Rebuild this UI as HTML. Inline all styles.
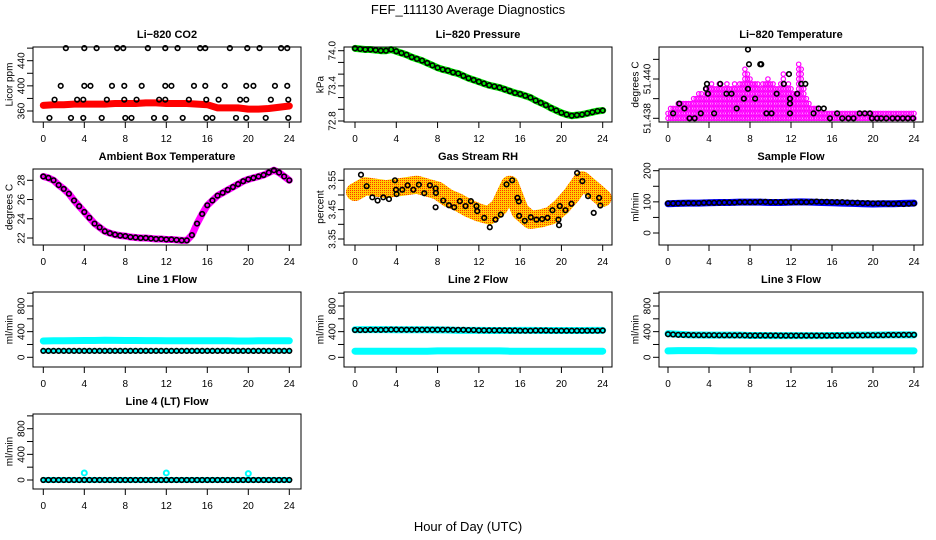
<!DOCTYPE html>
<html><head><meta charset="utf-8"><style>
html,body{margin:0;padding:0;background:#fff}
svg{display:block;font-family:"Liberation Sans",Arial,sans-serif}
</style></head><body>
<svg id="c" width="936" height="540" viewBox="0 0 936 540" xmlns="http://www.w3.org/2000/svg">
<defs>
<pattern id="chk" width="2" height="2" patternUnits="userSpaceOnUse">
<rect width="2" height="2" fill="#ffcc00"/><rect width="1" height="1" fill="#ff3300"/>
</pattern>
</defs>
<rect width="936" height="540" fill="#fff"/>
<text x="468" y="14" font-size="13" text-anchor="middle">FEF_111130  Average Diagnostics</text>
<text x="468" y="531" font-size="13" text-anchor="middle">Hour of Day (UTC)</text>
</svg>
<script>
// ---- data ----
const co2TopH=[2.2,4.0,5.2,7.2,7.8,10.2,11.9,13.1,15.3,15.8,18.2,19.9,21.1,23.2,23.8];
const co2TopV=[460,460,460,460,460,460,460,460,460,460,460,460,460,460,460];
const co2MidH=[1.7,4.0,4.6,6.7,7.9,9.6,11.9,12.5,14.7,15.8,17.7,19.8,20.5,22.6,23.8];
const co2MidV=[400,400,400,400,400,400,400,400,400,400,400,400,400,400,400];
const co2LowH=[1.1,3.3,3.9,6.2,7.9,9.1,11.3,11.9,14.2,15.9,17.1,19.2,19.8,22.2,23.9];
const co2LowV=[378,378,378,378,378,378,378,378,378,378,378,378,378,378,378];
const co2BotH=[0.6,2.7,3.9,5.7,8.0,8.6,10.8,11.9,13.6,15.9,16.5,18.8,19.8,21.7,23.9];
const co2BotV=[349,349,349,349,349,349,349,349,349,349,349,349,349,349,349];
const co2Red=[369,370,370,371,371,371,371,372,372,372,373,373,372,372,372,371,370,365,365,365,363,363,364,366,368];
const presVals=[74.04,74.03,74.02,74.02,74.01,74.0,74.0,74.02,73.99,73.96,73.93,73.89,73.86,73.83,73.79,73.75,73.71,73.68,73.66,73.63,73.61,73.57,73.53,73.5,73.47,73.44,73.41,73.39,73.37,73.34,73.31,73.28,73.26,73.23,73.2,73.15,73.11,73.07,73.02,72.98,72.94,72.91,72.89,72.9,72.91,72.93,72.95,72.97,72.98];
const tempH=[0.5,1.1,1.6,2.1,2.6,3.2,3.7,3.8,3.9,4.5,5.1,5.7,6.2,6.7,7.4,7.8,7.8,7.9,8.5,9.0,9.1,9.6,10.1,10.6,11.3,11.8,11.9,11.9,11.9,12.6,13.0,13.4,14.2,14.7,15.2,15.8,16.5,17.0,17.6,18.1,18.7,19.2,19.7,19.9,20.4,20.8,21.3,21.9,22.4,22.9,23.4,23.9];
const tempV=[51.43825,51.43875,51.4385,51.438,51.438,51.43825,51.4395,51.43975,51.43925,51.43825,51.43975,51.43925,51.43925,51.4385,51.439,51.4395,51.4415,51.44075,51.439,51.44075,51.44075,51.43825,51.43825,51.43925,51.43975,51.44025,51.439,51.43875,51.43825,51.43925,51.43975,51.43975,51.43825,51.4385,51.4385,51.438,51.43825,51.438,51.438,51.438,51.43825,51.43825,51.43825,51.438,51.438,51.438,51.438,51.438,51.438,51.438,51.438,51.438];
const magMax=[51.43825,51.4385,51.4385,51.4385,51.43875,51.43875,51.43875,51.43875,
51.43875,51.43875,51.439,51.439,51.43925,51.43925,51.439,51.4395,
51.4395,51.43975,51.4395,51.4395,51.43975,51.4395,51.4395,51.43975,
51.4395,51.4395,51.43975,51.4395,51.43975,51.43975,51.4405,51.44025,
51.44,51.43975,51.43975,51.43975,51.4395,51.43975,51.43975,51.44,
51.43975,51.43975,51.4395,51.4395,51.43975,51.44025,51.4395,51.43975,
51.4395,51.43925,51.43925,51.44075,51.4405,51.4395,51.439,51.43875,
51.4385,51.4385,51.4385,51.43825,51.43825,51.43825,51.43825,51.43825,
51.43825,51.43825,51.43825,51.43825,51.43825,51.43825,51.43825,51.43825,
51.43825,51.43825,51.43825,51.43825,51.43825,51.43825,51.43825,51.43825,
51.43825,51.43825,51.43825,51.43825,51.43825,51.43825,51.43825,51.43825,
51.43825,51.43825,51.43825,51.43825,51.43825,51.43825,51.43825,51.43825,51.43825];
const ambVals=[28.4,28.25,28.0,27.5,27.1,26.6,25.9,25.3,24.7,24.1,23.5,23.1,22.7,22.5,22.35,22.25,22.2,22.1,22.05,22.0,22.0,21.95,21.9,21.9,21.85,21.85,21.8,21.75,21.75,22.3,23.5,24.5,25.4,25.9,26.4,26.7,27.0,27.3,27.6,27.9,28.1,28.25,28.4,28.55,28.8,29.05,28.8,28.4,28.0];
const rhBand=[3.51,3.53,3.525,3.52,3.525,3.53,3.535,3.525,3.515,3.49,3.475,3.455,3.44,3.43,3.46,3.535,3.445,3.415,3.42,3.43,3.46,3.50,3.55,3.52,3.49];
const rhH=[0.58,1.13,1.68,2.19,2.74,3.29,3.87,3.97,4.03,4.58,5.10,5.65,6.19,6.71,7.26,7.81,7.84,7.81,8.55,9.10,9.61,10.16,10.71,11.23,11.77,11.84,12.52,13.06,13.61,14.13,14.68,15.23,15.74,15.87,15.90,16.45,17.03,17.58,18.13,18.65,19.13,19.71,19.77,19.84,20.39,20.97,21.52,22.03,22.58,23.13,23.65,23.77];
const rhV=[3.569,3.530,3.492,3.481,3.492,3.486,3.550,3.518,3.503,3.518,3.533,3.518,3.535,3.506,3.533,3.522,3.507,3.458,3.481,3.465,3.458,3.479,3.462,3.479,3.462,3.445,3.422,3.390,3.416,3.433,3.536,3.550,3.490,3.478,3.429,3.412,3.424,3.416,3.418,3.422,3.448,3.416,3.397,3.462,3.448,3.470,3.575,3.547,3.496,3.439,3.490,3.464];
const sampleBlue=[94,95,96,96,97,98,98,99,99,99,98,98,99,100,99,98,97,96,95,94,93,94,94,95,96];
const sampleBlack=[95,95,95,96,96,96,96,97,97,97,97,98,98,98,99,99,99,99,100,100,99,99,99,99,99,99,99,99,100,101,100,100,99,99,99,98,97,97,96,96,95,95,95,94,94,94,93,94,95];
const line1Cyan=[255,258,258,260,262,262,265,263,262,262,260,260,258,258,258,258,258,258,258,255,255,258,258,258,258];
const line1CyanLo=[100,100,100,100,100,100,100,100,100,100,100,100,100,100,100,100,100,100,100,100,100,100,100,100,100];
const line1Black=[100,100,100,100,100,100,100,100,100,100,100,100,100,100,100,100,100,100,100,100,100,100,100,100,100,100,100,100,100,100,100,100,100,100,100,100,100,100,100,100,100,100,100,100,100,100,100,100,100];
const line2CyanHi=[430,432,432,432,430,430,430,430,428,425,420,420,420,418,418,418,420,420,418,418,418,418,418,420,420];
const line2CyanLo=[95,95,95,95,95,95,95,95,100,100,100,100,100,100,100,95,95,95,95,95,95,95,95,95,95];
const line2Black=[425,425,425,428,428,428,430,432,432,430,430,430,430,430,430,430,430,430,430,428,428,428,425,425,420,420,420,420,420,420,418,418,415,415,415,418,418,418,415,415,415,415,415,415,415,415,415,415,418];
const line3CyanHi=[370,360,350,348,345,345,345,345,340,340,338,338,338,338,338,338,340,340,345,345,345,348,350,350,350];
const line3CyanLo=[100,105,105,105,105,100,100,100,100,100,100,100,100,100,100,100,100,100,100,100,100,100,100,100,100];
const line3Black=[360,355,350,348,348,346,345,345,345,345,343,343,343,342,342,342,340,340,340,340,340,340,338,338,338,338,338,338,338,338,338,338,338,340,340,340,340,342,342,345,345,345,345,348,348,348,350,350,350];
const line4Cyan=[0,0,0,0,0,0,0,0,0,0,0,0,0,0,0,0,0,0,0,0,0,0,0,0,0];
const line4SpikeH=[4,12,20];
const line4SpikeV=[110,110,100];
const line4Black=[0,0,0,0,0,0,0,0,0,0,0,0,0,0,0,0,0,0,0,0,0,0,0,0,0,0,0,0,0,0,0,0,0,0,0,0,0,0,0,0,0,0,0,0,0,0,0,0,0];
const xTicks=[0,4,8,12,16,20,24];
const hourly=[]; for(let i=0;i<=24;i++) hourly.push(i);
const halfHourly=[]; for(let i=0;i<=48;i++) halfHourly.push(i/2);

// ---- drawing ----
const svg=document.getElementById('c');
const NS='http://www.w3.org/2000/svg';
function mk(tag,attrs,parent){const e=document.createElementNS(NS,tag);for(const k in attrs)e.setAttribute(k,attrs[k]);(parent||svg).appendChild(e);return e;}
const cols=[{L:33,R:301,x0:43.3,x24:289.3,lab:22,tit:10},{L:344,R:612,x0:355,x24:602.7,lab:333,tit:321},{L:659,R:923,x0:668,x24:914,lab:648,tit:636}];
const rows=[{T:47,B:122},{T:169,B:245},{T:292,B:367},{T:414,B:489}];

function panel(name,title,ylab,c,r,v1,y1,v2,y2,yTicks,yLabels){
  const col=cols[c],row=rows[r];
  const g=mk('g',{});
  
  
  const sx=h=>col.x0+(col.x24-col.x0)*h/24;
  const sy=v=>y1+(v-v1)*(y2-y1)/(v2-v1);
  const t=mk('text',{x:(col.L+col.R)/2,y:row.T-9,'font-size':11,'font-weight':'bold','text-anchor':'middle'},g);
  t.textContent=title;
  
  
  const yt=mk('text',{x:col.tit,y:(row.T+row.B)/2,'font-size':10,'text-anchor':'middle',transform:`rotate(-90 ${col.tit} ${(row.T+row.B)/2})`,'dominant-baseline':'middle'},g);
  yt.textContent=ylab;
  
  
  const plot=mk('g',{},g);
  
  
  const axes=mk('g',{stroke:'#000','stroke-width':1},g);
  
  
  mk('rect',{x:col.L,y:row.T,width:col.R-col.L,height:row.B-row.T,fill:'none'},axes);
  xTicks.forEach(h=>{
    const x=sx(h);
    mk('line',{x1:x,x2:x,y1:row.B,y2:row.B+6},axes);
    const l=mk('text',{x:x,y:row.B+20,'font-size':10,'text-anchor':'middle',stroke:'none'},g);
    l.textContent=h;
    
    
  });
  yTicks.forEach(v=>{const y=sy(v);mk('line',{x1:col.L-6,x2:col.L,y1:y,y2:y},axes);});
  yLabels.forEach(a=>{
    const y=sy(a[0]);
    const l=mk('text',{x:col.lab,y:y,'font-size':10,'text-anchor':'middle','dominant-baseline':'middle',transform:`rotate(-90 ${col.lab} ${y})`},g);
    l.textContent=a[1];
    
    
  });
  return {plot,sx,sy};
}
function band(p,hs,vs,color,w,nm){
  const pts=hs.map((h,i)=>p.sx(h)+','+p.sy(vs[i])).join(' ');
  const e=mk('polyline',{points:pts,fill:'none',stroke:color,'stroke-width':w,'stroke-linejoin':'round','stroke-linecap':'round'},p.plot);
  
  
}
function pts(p,hs,vs,color,nm,r,sw){
  hs.forEach((h,i)=>{
    const e=mk('circle',{cx:p.sx(h),cy:p.sy(vs[i]),r:r||2.3,fill:'none',stroke:color,'stroke-width':sw||1.6},p.plot);
    
    
  });
}
const flowTicks=[0,200,400,600,800,1000];
const flowLabels=[[0,'0'],[400,'400'],[800,'800']];

// Panel 1 CO2
let p=panel('co2-panel','Li−820 CO2','Licor ppm',0,0,360,111,440,60.7,[360,380,400,420,440,460],[[360,'360'],[400,'400'],[440,'440']]);
band(p,hourly,co2Red,'#ff0000',7,'co2-red-series');
pts(p,co2TopH,co2TopV,'#000','co2-point');pts(p,co2MidH,co2MidV,'#000','co2-point');
pts(p,co2LowH,co2LowV,'#000','co2-point');pts(p,co2BotH,co2BotV,'#000','co2-point');
// Panel 2 pressure
p=panel('pressure-panel','Li−820 Pressure','kPa',1,0,74.0,50.7,72.8,121,[72.8,73.0,73.2,73.4,73.6,73.8,74.0],[[72.8,'72.8'],[73.4,'73.4'],[74.0,'74.0']]);
band(p,halfHourly,presVals,'#00ee00',7,'pressure-green-series');
pts(p,halfHourly,presVals,'#000','pressure-point');
// Panel 3 temperature
p=panel('li820-temperature-panel','Li−820 Temperature','degrees C',2,0,51.438,118.3,51.440,79,[51.438,51.439,51.440,51.441],[[51.438,'51.438'],[51.440,'51.440']]);
magMax.forEach((m,i)=>{
  const h=i*0.25;
  for(let v=51.438;v<=m+1e-7;v+=0.00025){
    const e=mk('circle',{cx:p.sx(h),cy:p.sy(v),r:2.2,fill:'none',stroke:'#ff00ff','stroke-width':1.2},p.plot);
    
    
  }
});
pts(p,tempH,tempV,'#000','temperature-point');
// Panel 4 ambient
p=panel('ambient-temperature-panel','Ambient Box Temperature','degrees C',0,1,22,238,28,180.3,[22,24,26,28],[[22,'22'],[24,'24'],[26,'26'],[28,'28']]);
band(p,halfHourly,ambVals,'#ff00ff',7,'ambient-magenta-series');
pts(p,halfHourly,ambVals,'#000','ambient-point');
// Panel 5 RH
p=panel('gas-stream-rh-panel','Gas Stream RH','percent',1,1,3.55,180.3,3.35,239,[3.35,3.40,3.45,3.50,3.55],[[3.35,'3.35'],[3.45,'3.45'],[3.55,'3.55']]);
band(p,hourly,rhBand,'url(#chk)',18,'rh-orange-series');
pts(p,rhH,rhV,'#000','rh-point');
// Panel 6 sample flow
p=panel('sample-flow-panel','Sample Flow','ml/min',2,1,0,233,200,170.7,[0,50,100,150,200],[[0,'0'],[100,'100'],[200,'200']]);
band(p,hourly,sampleBlue,'#0000ff',7,'sample-blue-series');
pts(p,halfHourly,sampleBlack,'#000','sample-point');
// Line 1
p=panel('line1-flow-panel','Line 1 Flow','ml/min',0,2,0,357.3,800,306,flowTicks,flowLabels);
band(p,hourly,line1Cyan,'#00ffff',7,'line1-cyan-series');
band(p,hourly,line1CyanLo,'#00ffff',5,'line1-cyan-low-series');
pts(p,halfHourly,line1Black,'#000','line1-point');
// Line 2
p=panel('line2-flow-panel','Line 2 Flow','ml/min',1,2,0,357.3,800,306,flowTicks,flowLabels);
band(p,hourly,line2CyanHi,'#00ffff',7,'line2-cyan-high-series');
band(p,hourly,line2CyanLo,'#00ffff',7,'line2-cyan-low-series');
pts(p,halfHourly,line2Black,'#000','line2-point');
// Line 3
p=panel('line3-flow-panel','Line 3 Flow','ml/min',2,2,0,357.3,800,306,flowTicks,flowLabels);
band(p,hourly,line3CyanHi,'#00ffff',7,'line3-cyan-high-series');
band(p,hourly,line3CyanLo,'#00ffff',7,'line3-cyan-low-series');
pts(p,halfHourly,line3Black,'#000','line3-point');
// Line 4
p=panel('line4-flow-panel','Line 4 (LT) Flow','ml/min',0,3,0,480,800,428.7,flowTicks,flowLabels);
band(p,hourly,line4Cyan,'#00ffff',6,'line4-cyan-series');
pts(p,line4SpikeH,line4SpikeV,'#00ffff','line4-cyan-spike',2.5,2);
pts(p,halfHourly,line4Black,'#000','line4-point');
</script>
</body></html>
